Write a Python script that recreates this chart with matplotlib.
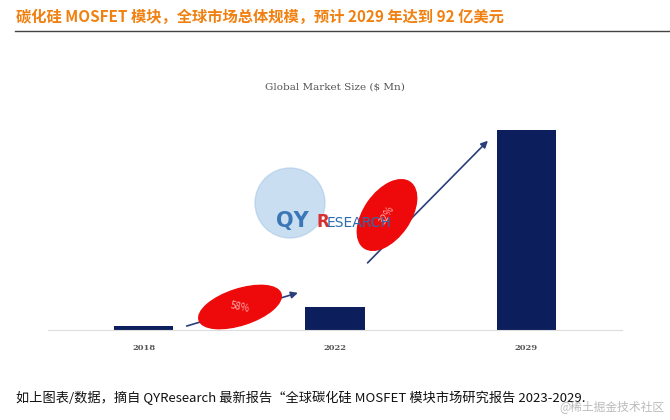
import matplotlib.pyplot as plt
from matplotlib.patches import Ellipse, Circle

plt.rcParams['font.family'] = ['Noto Sans CJK SC', 'DejaVu Sans']

years = ["2018", "2022", "2029"]
market_size = [180, 1060, 9200]
growth_labels = ["58%", "32%"]

BAR = "#0c1f5c"

fig = plt.figure(figsize=(6.7, 4.2), dpi=100)
ax = fig.add_axes([0.072, 0.214, 0.856, 0.524])
x = range(len(years))
ax.bar(x, market_size, width=0.31, color=BAR)
ax.set_xlim(-0.5, 2.5)
ax.set_ylim(0, 10120)
ax.set_xticks(list(x))
ax.set_xticklabels(years, fontsize=6, color="#555555", fontweight="bold", family="DejaVu Serif")
ax.tick_params(length=0, pad=10)
ax.set_yticks([])
for s in ["top", "right", "left"]:
    ax.spines[s].set_visible(False)
ax.spines["bottom"].set_color("#dddddd")

# growth arrows and red ellipses (placed in inches, origin bottom-left)
inch = fig.dpi_scale_trans


def px(xp, yp):
    return xp / 100, (420 - yp) / 100


ax.annotate("", xy=(0.82, 1750), xytext=(0.21, 150),
            arrowprops=dict(arrowstyle="-|>", color="#2a3f7a", lw=1.2))
ax.annotate("", xy=(1.81, 8800), xytext=(1.16, 3000),
            arrowprops=dict(arrowstyle="-|>", color="#2a3f7a", lw=1.2))
ax.add_patch(Ellipse(px(240, 307), 0.86, 0.36, angle=18, transform=inch,
                     color="#ee0a0a", zorder=3))
ax.text(*px(240, 307), growth_labels[0], transform=inch, color="#ffb0b0",
        fontsize=7, ha="center", va="center", rotation=-12, zorder=4)
ax.add_patch(Ellipse(px(387, 215), 0.80, 0.46, angle=55, transform=inch,
                     color="#ee0a0a", zorder=3))
ax.text(*px(387, 215), growth_labels[1], transform=inch, color="#ffb0b0",
        fontsize=7, ha="center", va="center", rotation=60, zorder=4)

# watermark logo
fig.patches.append(Circle(px(290, 203), 0.35, transform=inch,
                          color="#a8c8e8", alpha=0.6, zorder=2))
fig.text(*px(276, 221), "QY", transform=inch, color="#2b6cb0", fontsize=15,
         fontweight="heavy", va="center", family="DejaVu Sans", alpha=0.9)
fig.text(*px(316, 222), "R", transform=inch, color="#d83030", fontsize=12,
         fontweight="bold", va="center", family="DejaVu Sans")
fig.text(*px(327, 223), "ESEARCH", transform=inch, color="#2b6cb0", fontsize=10,
         va="center", family="DejaVu Sans", zorder=5)

fig.text(0.5, 1 - 87 / 420, "Global Market Size ($ Mn)", ha="center", va="center",
         fontsize=7.5, color="#555555", family="DejaVu Serif")

fig.text(16 / 670, 1 - 17 / 420, "碳化硅 MOSFET 模块，全球市场总体规模，预计 2029 年达到 92 亿美元",
         color="#f08010", fontsize=11, fontweight="bold", va="center")
fig.add_artist(plt.Line2D([15 / 670, 1], [1 - 31 / 420] * 2, color="#444444", lw=1))
fig.text(16 / 670, 1 - 398 / 420, "如上图表/数据，摘自 QYResearch 最新报告“全球碳化硅 MOSFET 模块市场研究报告 2023-2029.",
         fontsize=9.5, va="center", color="#111111")
fig.text(664 / 670, 1 - 407 / 420, "@稀土掘金技术社区", fontsize=8.5, ha="right", va="center",
         color="#bbbbbb")

fig.savefig("out.png", dpi=100)
